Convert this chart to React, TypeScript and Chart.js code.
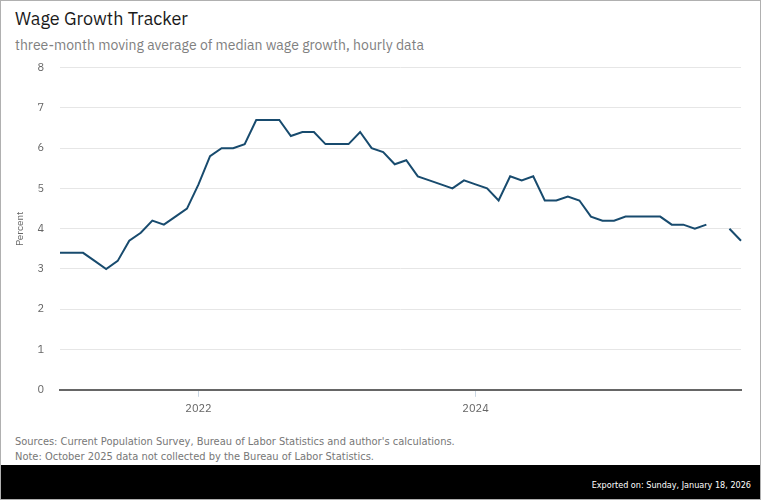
import React, { useEffect, useRef } from "react";
import { Chart, registerables } from "chart.js";

Chart.register(...registerables);

const years = [2021, 2022, 2023, 2024, 2025];
const monthCodes = ["01", "02", "03", "04", "05", "06", "07", "08", "09", "10", "11", "12"];
const categories: string[] = years.flatMap((y) => monthCodes.map((m) => `${y}-${m}`));

const wageGrowth: (number | null)[] = [
  // 2021
  3.4, 3.4, 3.4, 3.2, 3.0, 3.2, 3.7, 3.9, 4.2, 4.1, 4.3, 4.5,
  // 2022
  5.1, 5.8, 6.0, 6.0, 6.1, 6.7, 6.7, 6.7, 6.3, 6.4, 6.4, 6.1,
  // 2023
  6.1, 6.1, 6.4, 6.0, 5.9, 5.6, 5.7, 5.3, 5.2, 5.1, 5.0, 5.2,
  // 2024
  5.1, 5.0, 4.7, 5.3, 5.2, 5.3, 4.7, 4.7, 4.8, 4.7, 4.3, 4.2,
  // 2025
  4.2, 4.3, 4.3, 4.3, 4.3, 4.1, 4.1, 4.0, 4.1, null, 4.0, 3.7,
];

const labeledTicks = ["2022-01", "2024-01"];
const yTicks = [0, 1, 2, 3, 4, 5, 6, 7, 8];

const FONT = "'IBM Plex Sans', 'Noto Sans', sans-serif";
const COND = "'Liberation Sans Narrow', 'DejaVu Sans Condensed', 'Noto Sans', sans-serif";

export default function App() {
  const ref = useRef<HTMLCanvasElement | null>(null);

  useEffect(() => {
    document.body.style.margin = "0";
    if (!ref.current) return;
    const chart = new Chart(ref.current, {
      type: "line",
      data: {
        labels: categories,
        datasets: [
          {
            data: wageGrowth,
            borderColor: "#184b6e",
            borderWidth: 2,
            pointRadius: 0,
            tension: 0,
            spanGaps: false,
          },
        ],
      },
      options: {
        animation: false,
        responsive: false,
        maintainAspectRatio: false,
        layout: { padding: { left: 0, right: 20, top: 6, bottom: 0 } },
        plugins: { legend: { display: false }, tooltip: { enabled: false } },
        scales: {
          x: {
            type: "category",
            offset: false,
            border: { display: true, color: "#666666", width: 2 },
            grid: {
              display: true,
              drawOnChartArea: false,
              drawTicks: true,
              tickLength: 7,
              tickColor: (ctx: any) =>
                ctx.tick && labeledTicks.includes(categories[ctx.index]) ? "#c9d6e3" : "rgba(0,0,0,0)",
            },
            ticks: {
              autoSkip: false,
              maxRotation: 0,
              color: "#666666",
              font: { family: FONT, size: 11 },
              padding: 5,
              callback: (_v: any, i: number) =>
                labeledTicks.includes(categories[i]) ? categories[i].slice(0, 4) : "",
            },
          },
          y: {
            min: 0,
            max: 8,
            afterBuildTicks: (scale: any) => {
              scale.ticks = yTicks.map((v) => ({ value: v }));
            },
            afterFit: (scale: any) => {
              scale.width = 60;
            },
            border: { display: false },
            grid: { color: "#e6e6e6", drawTicks: false },
            ticks: {
              color: "#666666",
              font: { family: FONT, size: 11 },
              padding: 16,
            },
            title: {
              display: true,
              text: "Percent",
              color: "#666666",
              font: { family: FONT, size: 10 },
              padding: { top: 14, bottom: 0 },
            },
          },
        },
      },
    });
    return () => chart.destroy();
  }, []);

  return (
    <div
      style={{
        position: "relative",
        width: 761,
        height: 500,
        boxSizing: "border-box",
        border: "1px solid #b0b0b0",
        background: "#ffffff",
        overflow: "hidden",
      }}
    >
      <div
        style={{
          position: "absolute",
          left: 14,
          top: 6,
          fontFamily: FONT,
          fontSize: 18,
          color: "#1a1a1a",
          whiteSpace: "nowrap",
        }}
      >
        Wage Growth Tracker
      </div>
      <div
        style={{
          position: "absolute",
          left: 14,
          top: 35,
          fontFamily: FONT,
          fontSize: 14,
          color: "#808080",
          whiteSpace: "nowrap",
        }}
      >
        three-month moving average of median wage growth, hourly data
      </div>
      <canvas
        ref={ref}
        width={761}
        height={375}
        style={{ position: "absolute", left: -1, top: 44, width: 761, height: 375 }}
      />
      <div
        style={{
          position: "absolute",
          left: 14,
          top: 433,
          fontFamily: COND,
          fontSize: 11,
          lineHeight: "15px",
          color: "#777777",
          whiteSpace: "nowrap",
        }}
      >
        <div>Sources: Current Population Survey, Bureau of Labor Statistics and author's calculations.</div>
        <div>Note: October 2025 data not collected by the Bureau of Labor Statistics.</div>
      </div>
      <div
        style={{
          position: "absolute",
          left: 0,
          right: 0,
          bottom: 0,
          height: 34,
          background: "#000000",
        }}
      >
        <div
          style={{
            position: "absolute",
            right: 9,
            top: 15,
            fontFamily: COND,
            fontSize: 9,
            color: "#ffffff",
            whiteSpace: "nowrap",
          }}
        >
          Exported on: Sunday, January 18, 2026
        </div>
      </div>
    </div>
  );
}
